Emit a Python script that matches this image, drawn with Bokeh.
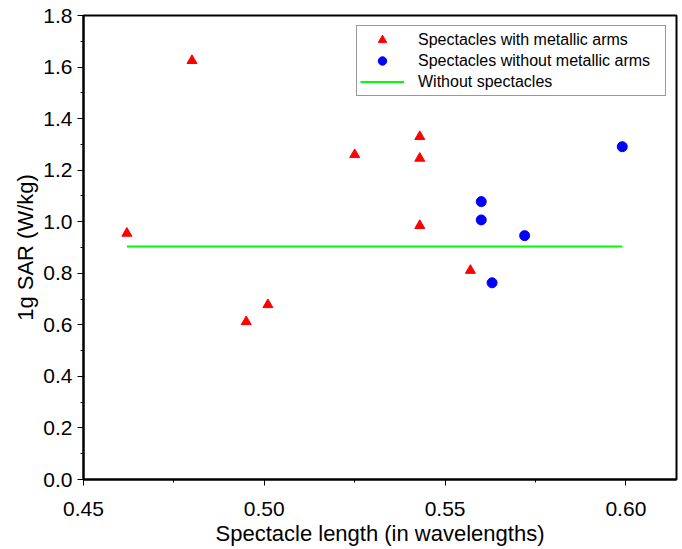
from bokeh.plotting import figure
from bokeh.models import Range1d, FixedTicker, PrintfTickFormatter, Legend, LegendItem
from bokeh.embed import file_html
from bokeh.resources import INLINE

# Spectacles with metallic arms (triangles)
metal_x = [0.462, 0.480, 0.525, 0.501, 0.495, 0.543, 0.543, 0.543, 0.557]
metal_y = [0.955, 1.625, 1.260, 0.678, 0.612, 1.330, 1.246, 0.985, 0.811]
# Spectacles without metallic arms (circles)
plain_x = [0.599, 0.560, 0.560, 0.572, 0.563]
plain_y = [1.291, 1.078, 1.007, 0.946, 0.763]
# Without spectacles (reference line)
nospec_x = [0.462, 0.599]
nospec_y = [0.904, 0.904]

x_ticks = [0.45, 0.50, 0.55, 0.60]
x_minor = [0.475, 0.525, 0.575]
y_ticks = [0.0, 0.2, 0.4, 0.6, 0.8, 1.0, 1.2, 1.4, 1.6, 1.8]
y_minor = [0.1, 0.3, 0.5, 0.7, 0.9, 1.1, 1.3, 1.5, 1.7]

FONT = "Liberation Sans"

p = figure(width=682, height=549, output_backend="svg", toolbar_location=None,
           x_range=Range1d(0.45, 0.614), y_range=Range1d(0.0, 1.8),
           min_border_left=83, min_border_right=6, min_border_top=15, min_border_bottom=70)

p.xgrid.visible = False
p.ygrid.visible = False
p.outline_line_color = "black"
p.outline_line_width = 2
p.background_fill_color = "white"
p.border_fill_color = "white"

line_r = p.line(nospec_x, nospec_y, line_color="#00ff00", line_width=2)
tri_r = p.scatter(metal_x, metal_y, marker="triangle", size=10, fill_color="#ff0000", line_color="#ff0000")
cir_r = p.scatter(plain_x, plain_y, marker="circle", size=10, fill_color="#0000ff", line_color="#0000ff")

p.xaxis.ticker = FixedTicker(ticks=x_ticks, minor_ticks=x_minor)
p.yaxis.ticker = FixedTicker(ticks=y_ticks, minor_ticks=y_minor)
p.xaxis.formatter = PrintfTickFormatter(format="%.2f")
p.yaxis.formatter = PrintfTickFormatter(format="%.1f")

for ax in (p.xaxis[0], p.yaxis[0]):
    ax.axis_line_width = 2
    ax.axis_line_color = "black"
    ax.major_tick_in = 0
    ax.major_tick_out = 6
    ax.minor_tick_in = 0
    ax.minor_tick_out = 3
    ax.major_tick_line_width = 1
    ax.minor_tick_line_width = 1
    ax.major_tick_line_color = "black"
    ax.minor_tick_line_color = "black"
    ax.major_label_text_font = FONT
    ax.major_label_text_font_size = "21px"
    ax.major_label_text_color = "black"
    ax.axis_label_text_font = FONT
    ax.axis_label_text_font_size = "22px"
    ax.axis_label_text_font_style = "normal"
    ax.axis_label_text_color = "black"

p.xaxis.axis_label = "Spectacle length (in wavelengths)"
p.yaxis.axis_label = "1g SAR (W/kg)"
p.xaxis.major_label_standoff = 16
p.yaxis.major_label_standoff = 5
p.xaxis.axis_label_standoff = 2
p.yaxis.axis_label_standoff = 2

legend = Legend(items=[
    LegendItem(label="Spectacles with metallic arms", renderers=[tri_r]),
    LegendItem(label="Spectacles without metallic arms", renderers=[cir_r]),
    LegendItem(label="Without spectacles", renderers=[line_r]),
], location="top_right")
legend.margin = 10
legend.padding = 3
legend.spacing = 0
legend.glyph_width = 44
legend.glyph_height = 21
legend.label_height = 21
legend.label_width = 244
legend.label_standoff = 14
legend.label_text_font = FONT
legend.label_text_font_size = "16px"
legend.label_text_color = "black"
legend.border_line_color = "#333333"
legend.border_line_width = 1.5
legend.background_fill_color = "white"
legend.background_fill_alpha = 1.0
p.add_layout(legend)

open("out.html", "w").write(file_html(p, INLINE))
